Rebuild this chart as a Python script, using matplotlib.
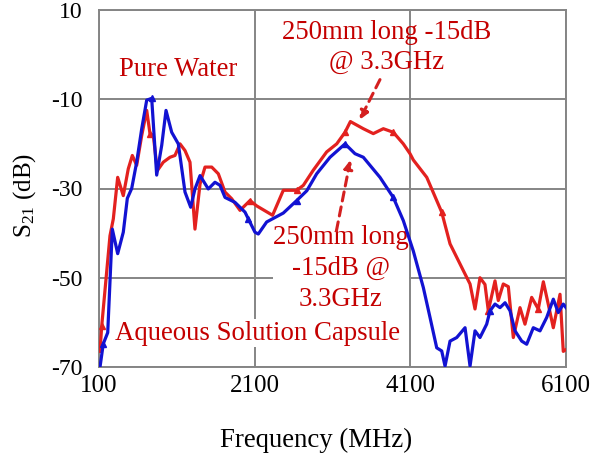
import numpy as np
import matplotlib
matplotlib.use("Agg")
import matplotlib.pyplot as plt

# Measured S21 transmission (MHz, dB)
water_freq = [113, 135, 241, 284, 340, 412, 476, 528, 584, 649, 713, 755, 798,
              849, 926, 1012, 1076, 1141, 1205, 1269, 1333, 1398, 1462, 1548,
              1633, 1719, 1805, 1912, 2040, 2126, 2330, 2468, 2640, 2725, 2853,
              3025, 3154, 3261, 3330, 3496, 3624, 3753, 3881, 4010, 4096, 4138,
              4311, 4503, 4610, 4781, 4867, 4931, 4995, 5059, 5102, 5188, 5230,
              5294, 5359, 5423, 5509, 5573, 5659, 5744, 5809, 5873, 5937, 6023,
              6065, 6100]
water_db = [-66.5, -60.8, -40.6, -36.8, -27.5, -31.6, -25.6, -22.6, -24.8, -18.1,
            -12.5, -17.7, -18.1, -26.0, -24.1, -23.0, -22.6, -20.0, -21.5, -24.1,
            -39.1, -29.0, -25.2, -25.2, -26.7, -30.8, -32.3, -34.9, -32.7, -33.9,
            -36.0, -30.4, -30.4, -29.3, -25.9, -21.8, -20.0, -17.4, -15.0, -16.6,
            -17.7, -16.6, -17.4, -20.0, -22.2, -23.6, -27.5, -35.3, -42.4, -48.4,
            -51.4, -57.0, -50.0, -51.5, -57.4, -50.7, -55.1, -51.4, -52.0, -63.4,
            -56.7, -60.4, -54.4, -57.0, -50.9, -56.0, -61.2, -53.7, -66.5, -66.1]
water_marks = [135, 755, 2040, 2640, 3261, 3881, 4503, 5102, 5744]

capsule_freq = [113, 155, 212, 271, 340, 412, 464, 520, 584, 649, 713, 777, 841,
                906, 961, 1034, 1119, 1205, 1278, 1333, 1398, 1504, 1590, 1655,
                1719, 1847, 1976, 2018, 2104, 2147, 2254, 2468, 2640, 2770, 2897,
                3068, 3261, 3389, 3496, 3710, 3881, 4010, 4138, 4267, 4353, 4439,
                4503, 4546, 4610, 4696, 4803, 4867, 4931, 4995, 5081, 5124, 5188,
                5252, 5317, 5381, 5445, 5531, 5595, 5680, 5766, 5852, 5937, 6001,
                6065, 6100]
capsule_db = [-70.0, -64.8, -62.3, -39.1, -44.6, -39.8, -32.2, -30.0, -24.1, -16.6,
              -10.2, -9.8, -27.0, -20.3, -12.5, -17.4, -20.0, -30.8, -34.2, -30.1,
              -27.1, -30.1, -28.6, -29.3, -32.0, -33.1, -35.3, -36.8, -39.8, -40.2,
              -37.5, -35.5, -32.7, -30.5, -26.7, -23.0, -20.0, -22.2, -23.0, -27.5,
              -32.0, -37.2, -44.0, -52.2, -58.9, -65.7, -66.4, -69.8, -64.2, -63.4,
              -61.2, -69.8, -61.9, -63.4, -60.4, -57.4, -55.9, -56.7, -55.6, -57.4,
              -61.9, -64.2, -64.9, -61.2, -61.9, -58.9, -54.8, -57.8, -55.9, -56.7]
capsule_marks = [155, 777, 2018, 2640, 3261, 3881, 5124]

x_ticks = [100, 2100, 4100, 6100]
y_ticks = [10, -10, -30, -50, -70]

RED_LINE = "#E3211F"
BLUE_LINE = "#1212D2"
TEXT_RED = "#C40000"
FONT = "Liberation Serif"

plt.rcParams["font.family"] = [FONT, "DejaVu Serif"]
plt.rcParams["mathtext.fontset"] = "custom"
plt.rcParams["mathtext.rm"] = FONT
plt.rcParams["mathtext.it"] = FONT + ":italic"

fig = plt.figure(figsize=(5.92, 4.53), dpi=100)
ax = fig.add_axes([99 / 592, 1 - 367 / 453, 467 / 592, 357 / 453])


def mark_idx(freqs, marks):
    return [i for i, f in enumerate(freqs) if f in marks]


ax.plot(water_freq, water_db, color=RED_LINE, lw=2.3, zorder=3,
        marker="^", markersize=4.5, markevery=mark_idx(water_freq, water_marks))
ax.plot(capsule_freq, capsule_db, color=BLUE_LINE, lw=2.3, zorder=3,
        marker="^", markersize=4.5, markevery=mark_idx(capsule_freq, capsule_marks))

ax.set_xlim(100, 6100)
ax.set_ylim(-70, 10)
ax.set_xticks(x_ticks)
ax.set_yticks(y_ticks)
ax.set_yticklabels([str(v) for v in y_ticks])
ax.tick_params(axis="both", length=0)
ax.tick_params(axis="x", pad=6, labelsize=18)
ax.tick_params(axis="y", pad=12, labelsize=17)

ax.set_axisbelow(True)
ax.grid(True, color="#858585", lw=1.4)
for sp in ax.spines.values():
    sp.set_color("#858585")
    sp.set_linewidth(1.4)

ax.set_xlabel("Frequency (MHz)", fontsize=19.3)
ax.xaxis.set_label_coords(0.465, -0.17)
ax.set_ylabel("S$_{21}$ (dB)", fontsize=18)
ax.yaxis.set_label_coords(-0.13, 0.48)

ann_kw = dict(color=TEXT_RED, fontsize=19.3, ha="center", va="center")
ax.text(1115, -3.4, "Pure Water", zorder=2, **ann_kw)
ax.text(3800, 1.6, "250mm long -15dB\n@ 3.3GHz", linespacing=1.3, zorder=2, **ann_kw)
ax.text(3210, -47.9, "250mm long\n-15dB @\n3.3GHz", linespacing=1.3, zorder=2,
        bbox=dict(facecolor="white", edgecolor="none", pad=0.3), **ann_kw)
ax.text(2130, -62.4, "Aqueous Solution Capsule", zorder=2,
        bbox=dict(facecolor="white", edgecolor="none", pad=1.0), **ann_kw)

arrow_kw = dict(arrowstyle="-|>,head_length=0.5,head_width=0.25", color="#D42020",
                lw=2.2, linestyle=(0, (3, 2)), shrinkA=0, shrinkB=0)
ax.annotate("", xy=(3450, -14.6), xytext=(3710, -5.6), arrowprops=arrow_kw, zorder=4)
ax.annotate("", xy=(3330, -23.6), xytext=(3150, -39.5), arrowprops=arrow_kw, zorder=4)

fig.savefig("out.png", dpi=100)
